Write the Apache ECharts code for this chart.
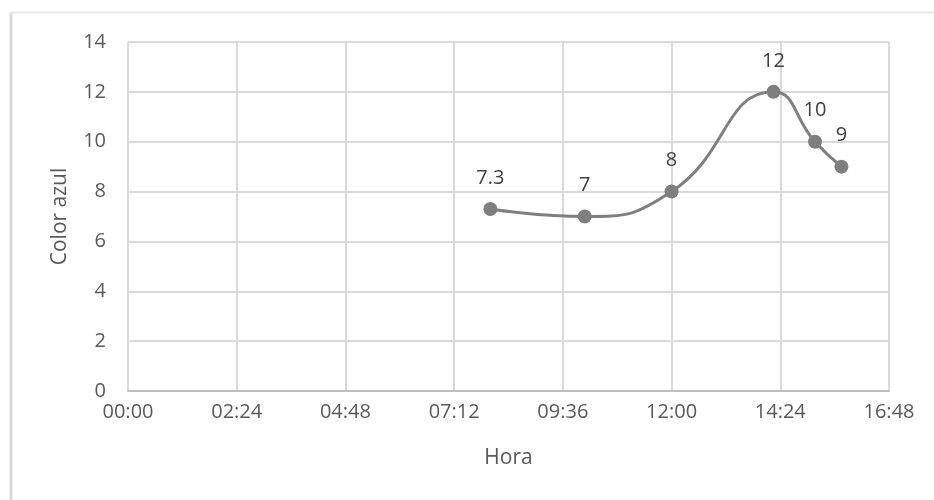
<!DOCTYPE html>
<html>
<head>
<meta charset="utf-8">
<script src="https://cdn.jsdelivr.net/npm/echarts@6/dist/echarts.min.js"></script>
<style>
  html, body { margin: 0; padding: 0; background: #ffffff; }
  #chart { width: 934px; height: 500px; }
</style>
</head>
<body>
<div id="chart"></div>
<script>
// Time of day in minutes since midnight, and the blue-colour reading at each time
const horaMin = [480, 605, 720, 855, 910, 945];
const colorAzul = [7.3, 7, 8, 12, 10, 9];
const labelText = ['7.3', '7', '8', '12', '10', '9'];

const FONT = '"Open Sans", sans-serif';
const TEXT = '#595959';
const GRID = '#d9d9d9';
const LINE = '#7f7f7f';

function toHHMM(v) {
  const h = Math.floor(v / 60);
  const m = Math.round(v % 60);
  return String(h).padStart(2, '0') + ':' + String(m).padStart(2, '0');
}

const points = horaMin.map((t, i) => [t, colorAzul[i]]);

const chart = echarts.init(document.getElementById('chart'), null, { renderer: 'canvas' });
chart.setOption({
  animation: false,
  backgroundColor: '#ffffff',
  textStyle: { fontFamily: FONT },
  grid: { left: 128, right: 45, top: 42, bottom: 109 },
  graphic: [
    { type: 'line', shape: { x1: 11, y1: 12, x2: 11, y2: 500 }, style: { stroke: '#d9d9d9', lineWidth: 3 } },
    { type: 'line', shape: { x1: 10, y1: 12.5, x2: 934, y2: 12.5 }, style: { stroke: '#e6e6e6', lineWidth: 2 } }
  ],
  xAxis: {
    type: 'value',
    min: 0,
    max: 1008,
    interval: 144,
    name: 'Hora',
    nameLocation: 'middle',
    nameGap: 57,
    nameTextStyle: { color: TEXT, fontSize: 21, fontFamily: FONT },
    axisLine: { show: true, lineStyle: { color: '#bfbfbf', width: 2 } },
    axisTick: { show: false },
    axisLabel: { color: TEXT, fontSize: 20, fontFamily: FONT, margin: 11, formatter: toHHMM },
    splitLine: { show: true, lineStyle: { color: GRID, width: 2 } }
  },
  yAxis: {
    type: 'value',
    min: 0,
    max: 14,
    interval: 2,
    name: 'Color azul',
    nameLocation: 'middle',
    nameGap: 57,
    nameTextStyle: { color: TEXT, fontSize: 21, fontFamily: FONT },
    axisLine: { show: false },
    axisTick: { show: false },
    axisLabel: { color: TEXT, fontSize: 20, fontFamily: FONT, margin: 22 },
    splitLine: { show: true, lineStyle: { color: GRID, width: 2 } }
  },
  series: [{
    type: 'line',
    data: points,
    smooth: 0.5,
    symbol: 'circle',
    symbolSize: 14,
    lineStyle: { color: LINE, width: 3 },
    itemStyle: { color: LINE },
    label: {
      show: true,
      position: 'top',
      distance: 14,
      color: '#404040',
      fontSize: 20,
      fontFamily: FONT,
      formatter: p => labelText[p.dataIndex]
    }
  }]
});
</script>
</body>
</html>
